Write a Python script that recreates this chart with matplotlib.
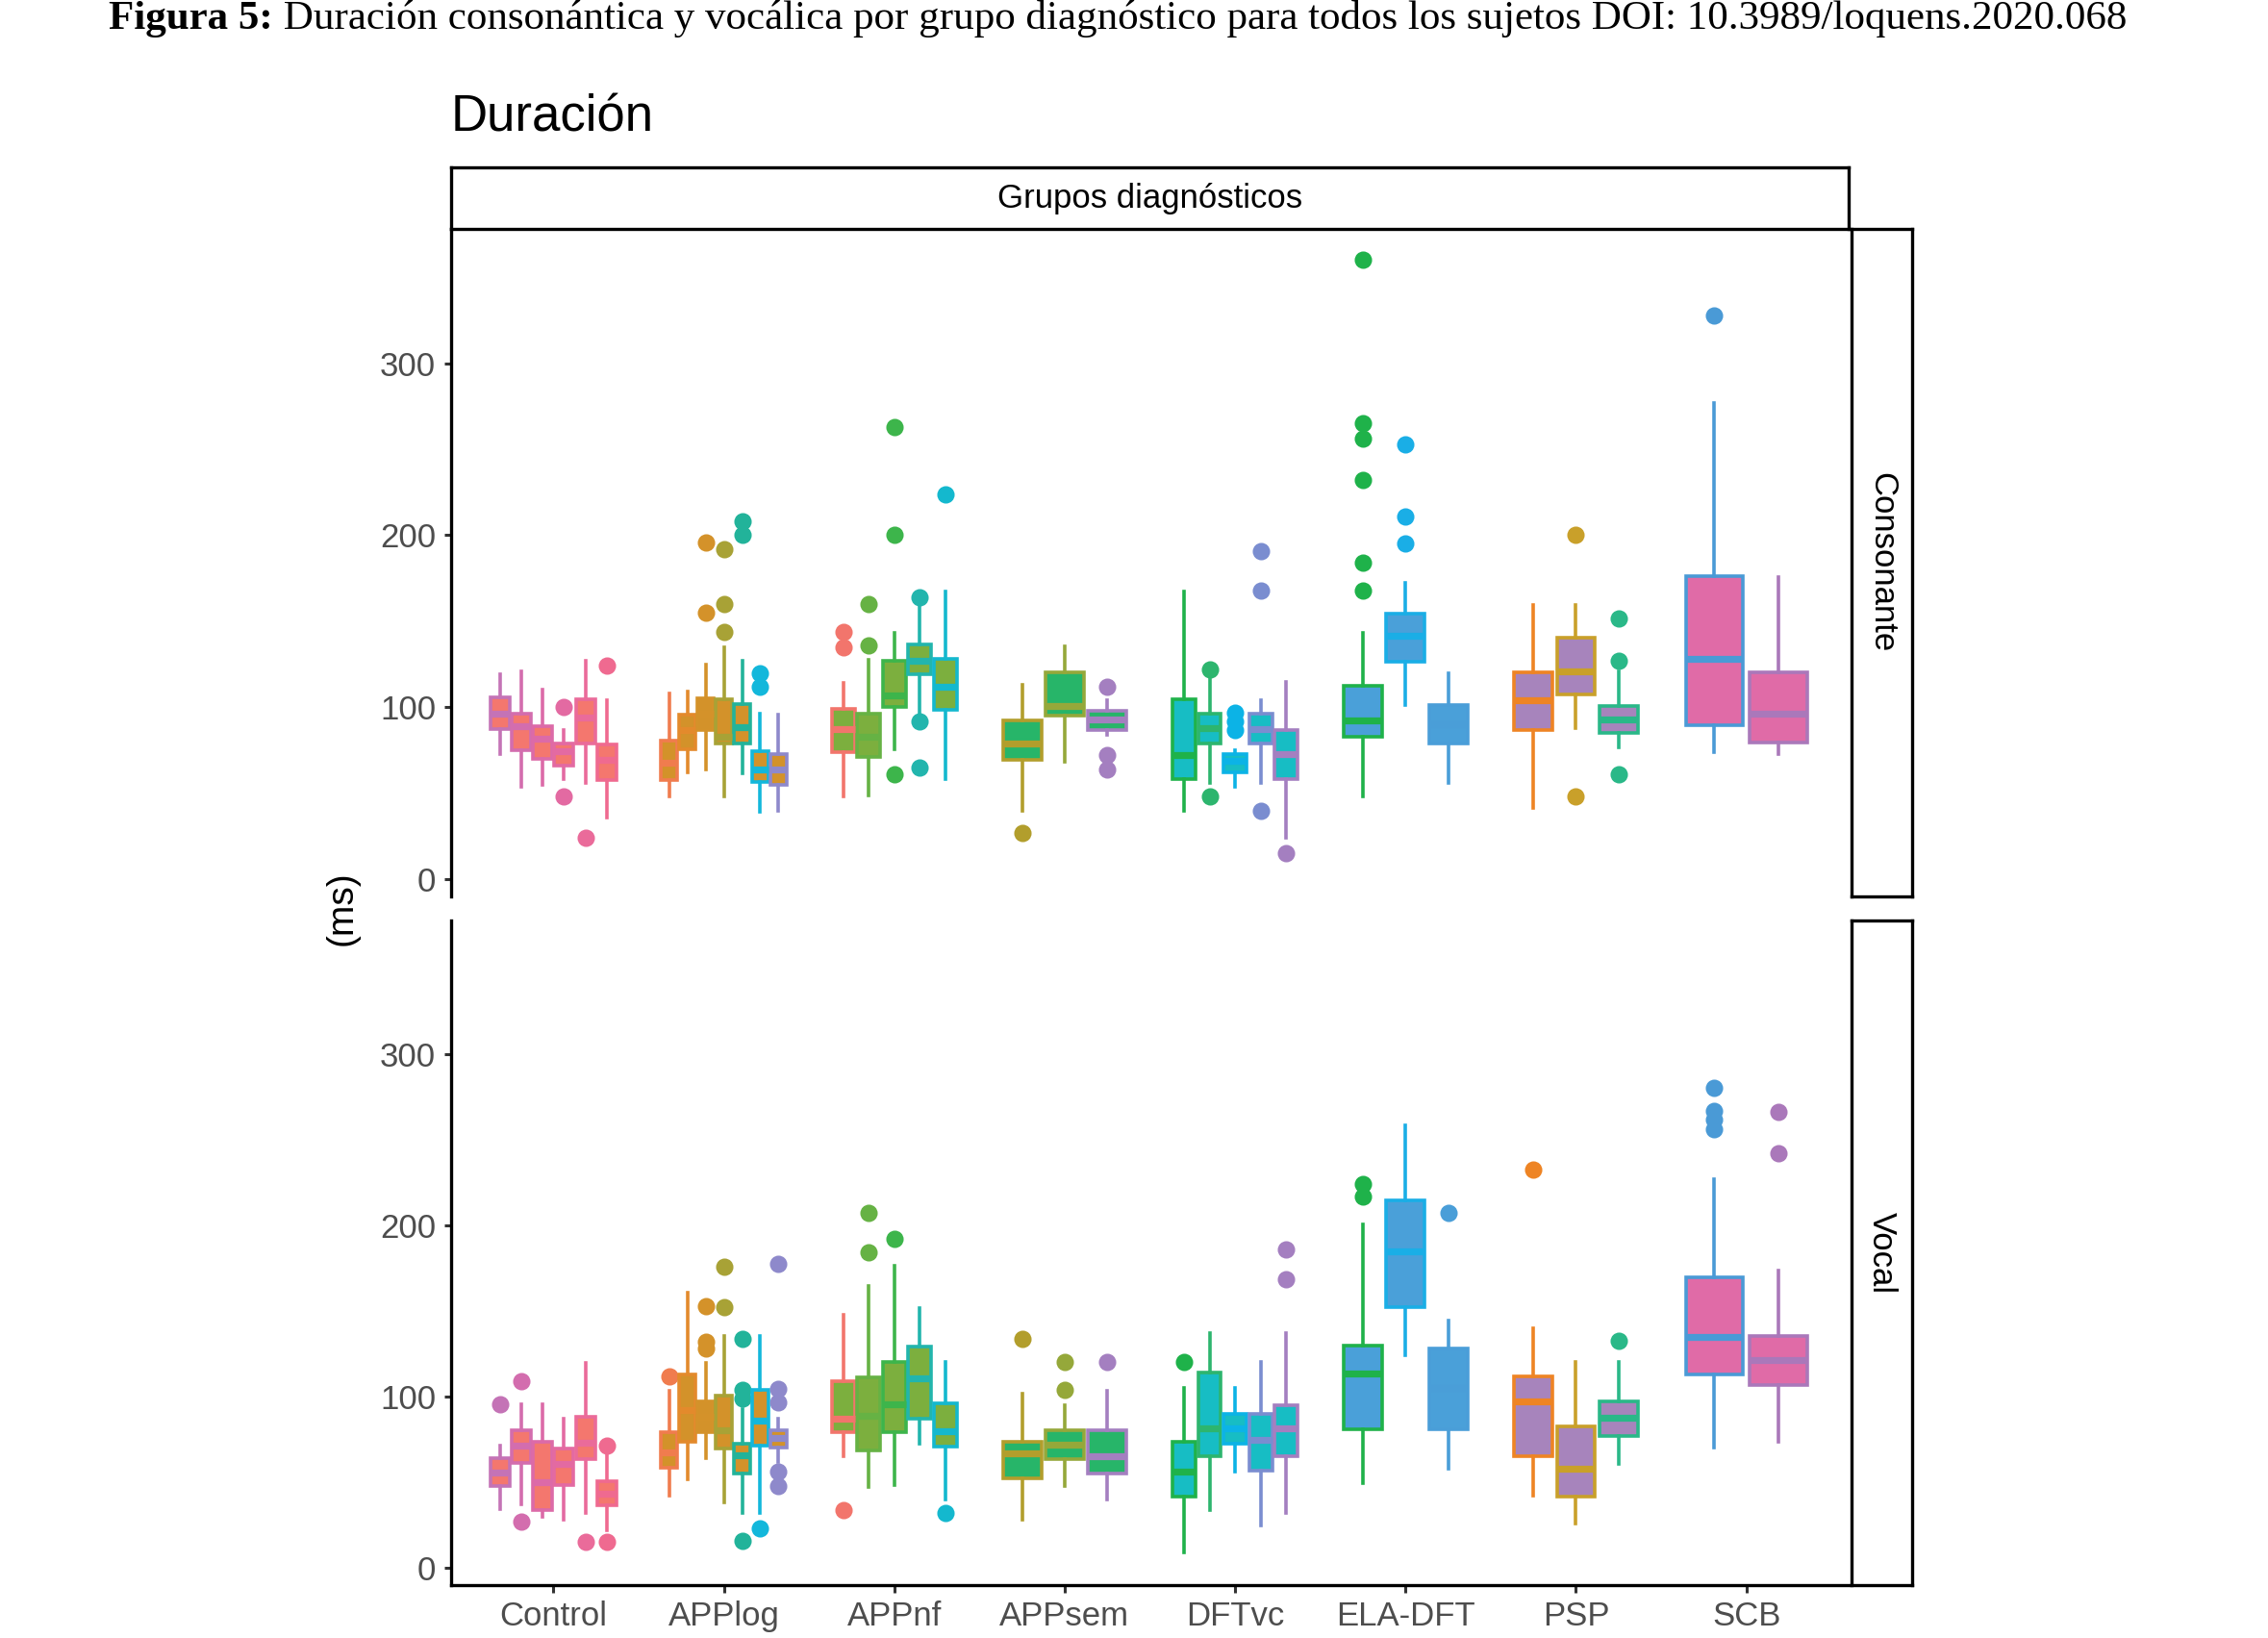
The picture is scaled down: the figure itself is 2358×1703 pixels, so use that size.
import matplotlib.pyplot as plt
import numpy as np

plt.rcParams['font.family'] = ['Liberation Sans', 'DejaVu Sans']

# grupos diagnósticos y número de sujetos por grupo
groups = ['Control', 'APPlog', 'APPnf', 'APPsem', 'DFTvc', 'ELA-DFT', 'PSP', 'SCB']
n_subj = [6, 7, 5, 3, 5, 3, 3, 2]
group_fill = ['#F4776E', '#D3922A', '#7CAF3E', '#27B569', '#17BDC4', '#4AA0D9', '#A784BC', '#E06BA7']
subj_edge = ['#C473B6', '#D36DAE', '#DC6AA8', '#E36AA2', '#EA6B9A', '#EF6A90',
             '#F07C4E', '#E38A2C', '#D4922A', '#A8A236', '#22B39A', '#13B7DB', '#8E89CB',
             '#F2756C', '#66B244', '#3DB54B', '#22B5AD', '#14B8CE',
             '#B29E2C', '#95A83A', '#A47FC0',
             '#1FB24A', '#2DB56E', '#0CB3E6', '#7A8DD0', '#A47FC0',
             '#1FB24A', '#1AAEE6', '#4A9ED8',
             '#EE8424', '#C9A02A', '#2AB888',
             '#4A9AD6', '#AA78BA']

# Consonante
cons_lo = [73, 54, 55, 58, 56, 36,
           48, 62, 64, 48, 61.5, 39, 40,
           48, 49, 75.5, 96, 58.5,
           40, 68.5, 84,
           40, 56, 54, 56, 24,
           48, 101.5, 56,
           41.5, 88, 76.5,
           74, 72.5]
cons_q1 = [87.5, 75, 70, 66, 79, 57.5,
           57.5, 75.5, 86.5, 79, 79, 56.5, 55,
           74, 71, 100, 119, 98.5,
           69.5, 95, 87,
           58.5, 79, 62, 79, 58,
           83, 126.5, 79,
           87, 107.5, 85,
           89.5, 79.5]
cons_med = [96, 89, 82, 74.5, 94, 69.5,
            68, 86.5, 96, 83, 88.5, 64, 64,
            87.5, 83, 107, 127, 112,
            79, 100.5, 93,
            72, 88, 69, 87.5, 72.5,
            92.5, 141.5, 90,
            104, 121, 93,
            128, 96]
cons_q3 = [106, 96.5, 89, 79, 104.5, 78.5,
           80.5, 95.5, 105, 104.5, 102, 74.5, 72.5,
           99, 96.5, 127, 136.5, 128,
           92.5, 120.5, 98,
           104.5, 96.5, 72.5, 96.5, 86.5,
           112.5, 154.5, 101.5,
           120.5, 140.5, 101,
           176, 120.5]
cons_hi = [119, 121, 110, 87, 127, 104,
           108, 109, 125, 135, 127, 96.5, 95.5,
           114, 127.5, 143, 160, 167.5,
           113, 135.5, 104,
           167.5, 117, 75, 104, 114.5,
           143, 172.5, 119.5,
           159.5, 159.5, 121,
           277, 175.5]
cons_fliers = [[], [], [], [100, 48], [24], [124],
               [], [], [196, 155], [192, 160, 144], [208, 200], [120, 112], [],
               [144, 135], [160, 136], [263, 200, 61], [164, 92, 65], [224],
               [27], [], [112, 72, 64],
               [], [122, 48], [97, 92, 87], [191, 168, 40], [15],
               [360, 265, 256, 232, 184, 168], [253, 211, 195], [],
               [], [200, 48], [151.5, 127, 61],
               [328], []]

# Vocal
voc_lo = [34.5, 37, 30, 28, 32, 22,
          42, 52, 64, 38, 32, 32, 62,
          65.5, 47, 48.5, 72.5, 40,
          28, 48, 40,
          9, 34, 56.5, 25, 32,
          49.5, 124, 58,
          42, 26, 61,
          70.5, 73.5]
voc_q1 = [48, 61.5, 34, 48.5, 63.5, 36.5,
          58.5, 73.5, 79, 69.5, 55, 71.5, 70.5,
          79, 68.5, 79, 87, 71,
          52.5, 63.5, 55,
          41.5, 65, 72.5, 57, 65,
          81, 152.5, 81,
          65, 41.5, 77,
          113, 106.5]
voc_med = [55.5, 71.5, 50, 61, 73, 43.5,
           67.5, 92, 88, 80.5, 66, 86, 76,
           87, 89, 95.5, 110.5, 80,
           67, 72, 65.5,
           56.5, 81.5, 81.5, 75, 81.5,
           113.5, 185, 105,
           97, 58, 87.5,
           135, 121.5]
voc_q3 = [64, 80.5, 73.5, 69.5, 88.5, 50.5,
          79, 113, 97.5, 100.5, 72.3, 104, 80.5,
          109, 111, 120.5, 129, 96,
          73.5, 80.5, 80.5,
          73.5, 114, 90, 90, 95,
          130, 214.5, 128,
          112, 82.5, 97,
          169.5, 135.5]
voc_hi = [71.5, 95.5, 95.5, 87, 119.5, 66.5,
          103.5, 160.5, 119.5, 135.5, 93, 135.5, 87,
          147.5, 164.5, 176.5, 151.5, 120,
          102, 95, 103.5,
          105, 137, 105, 120.5, 137,
          200.5, 258.5, 144.5,
          140, 120.5, 120.5,
          227, 173.5]
voc_fliers = [[95.5], [109, 27], [], [], [15.5], [71.5, 15.5],
              [112], [], [153, 132, 128], [176, 152], [134, 104, 99, 16], [23], [177.5, 104.5, 96.5, 56, 48],
              [34], [207.5, 184], [192], [], [32],
              [134], [120, 104], [120],
              [120.5], [], [], [], [186, 168.5],
              [224, 217], [], [207],
              [232.5], [], [132.5],
              [280, 267, 262, 256], [266, 242]]

# posiciones esquivadas dentro de cada grupo
pos, widths, fills = [], [], []
for g, n in enumerate(n_subj):
    step = 0.75 / n
    for i in range(n):
        pos.append(g + 1 + (i - (n - 1) / 2) * step)
        widths.append(step * 0.9)
        fills.append(group_fill[g])


def draw(ax, lo, q1, med, q3, hi, fliers):
    for k in range(len(pos)):
        st = dict(whislo=lo[k], q1=q1[k], med=med[k], q3=q3[k], whishi=hi[k], fliers=fliers[k])
        ec = subj_edge[k]
        ax.bxp([st], positions=[pos[k]], widths=[widths[k]], patch_artist=True, showcaps=False,
               boxprops=dict(facecolor=fills[k], edgecolor=ec, linewidth=1.3),
               whiskerprops=dict(color=ec, linewidth=1.3),
               medianprops=dict(color=ec, linewidth=2.6, solid_capstyle='butt'),
               flierprops=dict(marker='o', markerfacecolor=ec, markeredgecolor=ec, markersize=5.5),
               manage_ticks=False)
    ax.set_xlim(0.4, 8.6)
    ax.set_ylim(-10, 378)
    ax.set_yticks([0, 100, 200, 300])
    for s in ['top', 'right']:
        ax.spines[s].set_visible(False)
    ax.spines['left'].set_linewidth(1.2)
    ax.tick_params(axis='both', length=2.7, width=1.1, color='#333333',
                   labelsize=12.5, labelcolor='#4D4D4D', pad=3)


fig = plt.figure(figsize=(11.79, 8.515), dpi=200)
L, W = 0.1989, 0.6162
ax_c = fig.add_axes([L, 0.4527, W, 0.4075])
ax_v = fig.add_axes([L, 0.0323, W, 0.4058])

draw(ax_c, cons_lo, cons_q1, cons_med, cons_q3, cons_hi, cons_fliers)
draw(ax_v, voc_lo, voc_q1, voc_med, voc_q3, voc_hi, voc_fliers)

ax_c.spines['bottom'].set_visible(False)
ax_c.set_xticks([])
ax_v.spines['bottom'].set_linewidth(1.2)
ax_v.set_xticks(range(1, 9))
ax_v.set_xticklabels(groups)

# tiras de facetas
def strip(rect, text, rot):
    s = fig.add_axes(rect)
    s.set_xticks([]); s.set_yticks([])
    for sp in s.spines.values():
        sp.set_linewidth(1.2)
    s.text(0.5, 0.5, text, rotation=rot, ha='center', va='center',
           fontsize=12.5, transform=s.transAxes)

strip([L, 0.8602, W, 0.0376], 'Grupos diagnósticos', 0)
strip([0.8164, 0.4527, 0.0267, 0.4075], 'Consonante', -90)
strip([0.8164, 0.0323, 0.0267, 0.4058], 'Vocal', -90)

fig.text(L, 0.9278, 'Duración', fontsize=19, va='center', ha='left')
fig.text(0.151, 0.4457, '(ms)', fontsize=14, rotation=90, va='center', ha='center')

t1 = fig.text(0.048, 0.9885, 'Figura 5:', fontsize=15.5, fontweight='bold',
              family=['Liberation Serif'], va='center', ha='left')
ax_c.annotate(' Duración consonántica y vocálica por grupo diagnóstico para todos los sujetos DOI: 10.3989/loquens.2020.068',
              xy=(1, 0), xycoords=t1, va='bottom', ha='left', fontsize=15.5,
              family=['Liberation Serif'], annotation_clip=False)

fig.savefig('out.png', dpi=200, facecolor='white')
